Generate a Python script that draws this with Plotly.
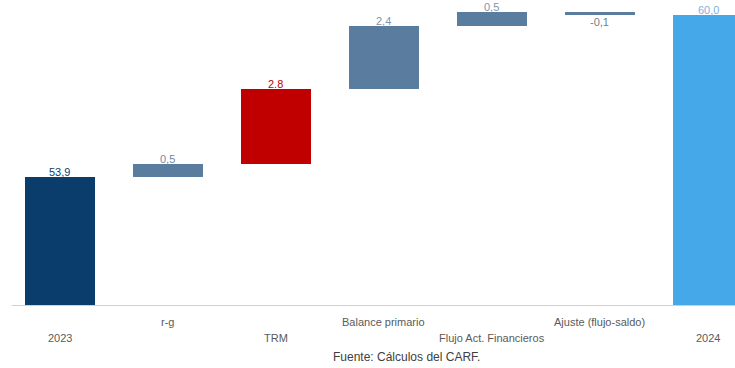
import plotly.graph_objects as go

categories = ["2023", "r-g", "TRM", "Balance primario", "Flujo Act. Financieros", "Ajuste (flujo-saldo)", "2024"]
values = [53.9, 0.5, 2.8, 2.4, 0.5, -0.1, 60.0]
measures = ["absolute", "relative", "relative", "relative", "relative", "relative", "total"]
value_labels = ["53,9", "0,5", "2.8", "2,4", "0,5", "-0,1", "60,0"]
bar_colors = ["#0a3d6b", "#5a7d9f", "#c00000", "#5a7d9f", "#5a7d9f", "#5a7d9f", "#45a8e8"]
label_colors = ["#0a3d6b", "#6f8aa6", "#c00000", "#8094ad", "#8094ad", "#6f7f90", "#7fb0dc"]
label_rows = ["low", "high", "low", "high", "low", "high", "low"]

xs = list(range(len(categories)))
bases, heights = [], []
running = 0.0
for v, m in zip(values, measures):
    if m == "absolute" or m == "total":
        bases.append(0.0)
        heights.append(v)
        running = v
    else:
        bases.append(running)
        heights.append(v)
        running += v

fig = go.Figure()
fig.add_trace(go.Bar(
    x=xs, y=heights, base=bases, width=0.65,
    marker=dict(color=bar_colors, line=dict(width=0)),
    hoverinfo="skip",
))

annotations = []
for i, (b, h) in enumerate(zip(bases, heights)):
    top = b + h if h >= 0 else b
    bottom = b + h if h < 0 else b
    if h >= 0:
        annotations.append(dict(x=i, y=top, text=value_labels[i], showarrow=False,
                                yanchor="bottom", yshift=-2, borderpad=0,
                                font=dict(family="Liberation Sans, Arial", size=11, color=label_colors[i])))
    else:
        annotations.append(dict(x=i, y=bottom, text=value_labels[i], showarrow=False,
                                yanchor="top", yshift=0, borderpad=0,
                                font=dict(family="Liberation Sans, Arial", size=11, color=label_colors[i])))
    annotations.append(dict(x=i, y=0, yref="paper", text=categories[i], showarrow=False,
                            yanchor="middle",
                            yshift=-17 if label_rows[i] == "high" else -33,
                            font=dict(family="Liberation Sans, Arial", size=11, color="#5a5a5a")))

annotations.append(dict(x=0.545, y=0, xref="paper", yref="paper", text="Fuente: Cálculos del CARF.",
                        showarrow=False, yanchor="middle", yshift=-52,
                        font=dict(family="Liberation Sans, Arial", size=12, color="#404040")))

fig.update_layout(
    width=735, height=368,
    margin=dict(l=12, r=0, t=0, b=63),
    paper_bgcolor="white", plot_bgcolor="white",
    showlegend=False,
    bargap=0,
    annotations=annotations,
    xaxis=dict(range=[-0.444, 6.25], showticklabels=False, ticks="", showgrid=False,
               zeroline=False, showline=True, linecolor="#d0d0d0", linewidth=1),
    yaxis=dict(range=[49.09, 60.56], visible=False, showgrid=False, zeroline=False),
)

fig.write_html("out.html")
